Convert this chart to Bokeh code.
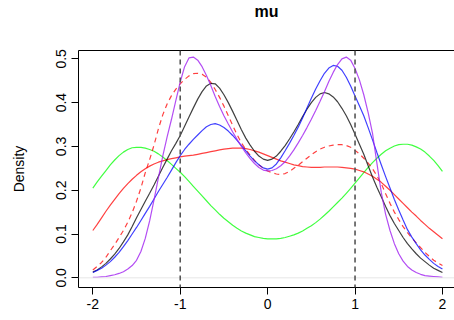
from bokeh.plotting import figure
from bokeh.models import Span, LinearAxis, FixedTicker, Range1d, ColumnDataSource
from bokeh.embed import file_html
from bokeh.resources import INLINE

x = [-2.00, -1.95, -1.90, -1.85, -1.80, -1.75, -1.70, -1.65, -1.60, -1.55,
     -1.50, -1.45, -1.40, -1.35, -1.30, -1.25, -1.20, -1.15, -1.10, -1.05,
     -1.00, -0.95, -0.90, -0.85, -0.80, -0.75, -0.70, -0.65, -0.60, -0.55,
     -0.50, -0.45, -0.40, -0.35, -0.30, -0.25, -0.20, -0.15, -0.10, -0.05,
     0.00, 0.05, 0.10, 0.15, 0.20, 0.25, 0.30, 0.35, 0.40, 0.45,
     0.50, 0.55, 0.60, 0.65, 0.70, 0.75, 0.80, 0.85, 0.90, 0.95,
     1.00, 1.05, 1.10, 1.15, 1.20, 1.25, 1.30, 1.35, 1.40, 1.45,
     1.50, 1.55, 1.60, 1.65, 1.70, 1.75, 1.80, 1.85, 1.90, 1.95, 2.00]

green = [0.205, 0.219, 0.232, 0.245, 0.258, 0.269, 0.279, 0.287, 0.293, 0.297,
         0.298, 0.298, 0.296, 0.293, 0.289, 0.283, 0.276, 0.268, 0.259, 0.250,
         0.241, 0.231, 0.220, 0.209, 0.198, 0.187, 0.176, 0.165, 0.155, 0.145,
         0.136, 0.128, 0.120, 0.113, 0.107, 0.102, 0.098, 0.094, 0.092, 0.090,
         0.089, 0.089, 0.089, 0.090, 0.092, 0.095, 0.098, 0.102, 0.107, 0.113,
         0.119, 0.126, 0.134, 0.143, 0.152, 0.162, 0.172, 0.182, 0.193, 0.204,
         0.216, 0.228, 0.240, 0.252, 0.263, 0.273, 0.282, 0.290, 0.296, 0.301,
         0.304, 0.305, 0.305, 0.303, 0.299, 0.294, 0.287, 0.278, 0.268, 0.256, 0.243]

red = [0.108, 0.122, 0.137, 0.152, 0.166, 0.179, 0.192, 0.204, 0.215, 0.225,
       0.234, 0.242, 0.249, 0.255, 0.260, 0.264, 0.267, 0.270, 0.272, 0.274,
       0.276, 0.278, 0.279, 0.280, 0.282, 0.284, 0.286, 0.288, 0.290, 0.292,
       0.294, 0.295, 0.296, 0.296, 0.296, 0.295, 0.293, 0.290, 0.287, 0.283,
       0.279, 0.275, 0.271, 0.267, 0.264, 0.261, 0.258, 0.256, 0.254, 0.253,
       0.252, 0.252, 0.252, 0.253, 0.253, 0.253, 0.253, 0.252, 0.251, 0.250,
       0.248, 0.245, 0.242, 0.237, 0.232, 0.225, 0.218, 0.209, 0.200, 0.190,
       0.180, 0.170, 0.160, 0.150, 0.141, 0.131, 0.122, 0.113, 0.105, 0.097, 0.089]

red_dashed = [0.018, 0.026, 0.035, 0.047, 0.062, 0.076, 0.092, 0.108, 0.127, 0.149,
              0.175, 0.205, 0.240, 0.270, 0.303, 0.340, 0.372, 0.397, 0.416, 0.431,
              0.443, 0.453, 0.461, 0.466, 0.467, 0.465, 0.458, 0.446, 0.430, 0.412,
              0.392, 0.370, 0.348, 0.327, 0.308, 0.293, 0.280, 0.268, 0.258, 0.250,
              0.244, 0.240, 0.237, 0.236, 0.238, 0.243, 0.250, 0.257, 0.265, 0.273,
              0.281, 0.288, 0.294, 0.298, 0.301, 0.303, 0.304, 0.304, 0.302, 0.298,
              0.291, 0.283, 0.273, 0.262, 0.249, 0.233, 0.215, 0.192, 0.170, 0.150,
              0.133, 0.117, 0.103, 0.091, 0.080, 0.069, 0.058, 0.049, 0.040, 0.034, 0.028]

black = [0.013, 0.018, 0.025, 0.033, 0.043, 0.054, 0.067, 0.082, 0.098, 0.117,
         0.137, 0.156, 0.175, 0.193, 0.212, 0.232, 0.252, 0.271, 0.290, 0.307,
         0.325, 0.346, 0.367, 0.388, 0.408, 0.425, 0.438, 0.444, 0.443, 0.433,
         0.418, 0.400, 0.380, 0.359, 0.338, 0.319, 0.303, 0.289, 0.278, 0.271,
         0.268, 0.271, 0.278, 0.289, 0.302, 0.317, 0.333, 0.350, 0.368, 0.385,
         0.400, 0.412, 0.420, 0.423, 0.420, 0.413, 0.402, 0.387, 0.370, 0.350,
         0.328, 0.305, 0.282, 0.256, 0.230, 0.207, 0.185, 0.163, 0.142, 0.124,
         0.108, 0.092, 0.078, 0.066, 0.055, 0.045, 0.037, 0.029, 0.022, 0.017, 0.012]

blue = [0.012, 0.017, 0.022, 0.029, 0.037, 0.047, 0.058, 0.071, 0.085, 0.100,
        0.115, 0.131, 0.147, 0.163, 0.180, 0.197, 0.213, 0.229, 0.246, 0.263,
        0.279, 0.293, 0.305, 0.316, 0.326, 0.336, 0.345, 0.350, 0.352, 0.349,
        0.343, 0.335, 0.325, 0.314, 0.302, 0.290, 0.278, 0.267, 0.258, 0.251,
        0.248, 0.251, 0.260, 0.274, 0.290, 0.307, 0.325, 0.344, 0.365, 0.388,
        0.410, 0.431, 0.450, 0.467, 0.479, 0.485, 0.483, 0.474, 0.458, 0.438,
        0.415, 0.393, 0.370, 0.343, 0.315, 0.286, 0.258, 0.231, 0.205, 0.179,
        0.155, 0.132, 0.110, 0.093, 0.078, 0.064, 0.052, 0.042, 0.033, 0.026, 0.020]

purple = [0.001, 0.001, 0.002, 0.003, 0.005, 0.007, 0.010, 0.014, 0.020, 0.028,
          0.040, 0.060, 0.090, 0.130, 0.178, 0.228, 0.278, 0.322, 0.362, 0.405,
          0.447, 0.482, 0.502, 0.504, 0.497, 0.482, 0.462, 0.439, 0.414, 0.391,
          0.370, 0.351, 0.333, 0.316, 0.300, 0.285, 0.272, 0.261, 0.252, 0.246,
          0.244, 0.245, 0.249, 0.256, 0.265, 0.278, 0.292, 0.308, 0.325, 0.343,
          0.362, 0.382, 0.403, 0.425, 0.448, 0.469, 0.487, 0.500, 0.504, 0.497,
          0.478, 0.452, 0.418, 0.377, 0.330, 0.262, 0.195, 0.145, 0.108, 0.078,
          0.055, 0.038, 0.026, 0.018, 0.012, 0.008, 0.005, 0.004, 0.003, 0.002, 0.001]

title_text = "mu"
vlines = [-1, 1]
x_ticks = [-2, -1, 0, 1, 2]
x_tick_labels = ["-2", "-1", "0", "1", "2"]
y_ticks = [0.0, 0.1, 0.2, 0.3, 0.4, 0.5]
y_tick_labels = ["0.0", "0.1", "0.2", "0.3", "0.4", "0.5"]

FONT = "Liberation Sans"

p = figure(width=454, height=320, output_backend="svg", toolbar_location=None,
           x_range=Range1d(-2.164, 2.138), y_range=Range1d(-0.0221, 0.519),
           min_border_left=78, min_border_right=0, min_border_top=50, min_border_bottom=33,
           title=title_text)
p.title.align = "center"
p.title.vertical_align = "top"
p.title.text_font = FONT
p.title.text_font_size = "16px"
p.title.text_font_style = "bold"
p.title.text_color = "black"
p.title.standoff = 4

p.grid.visible = False
p.outline_line_color = None
p.background_fill_color = "white"
p.border_fill_color = "white"

for ax in (p.xaxis[0], p.yaxis[0]):
    ax.major_tick_in = 0
    ax.major_tick_out = 7
    ax.minor_tick_line_color = None
    ax.axis_line_color = "black"
    ax.major_tick_line_color = "black"
    ax.major_label_text_font = FONT
    ax.major_label_text_font_size = "14px"
    ax.major_label_text_color = "black"

p.xaxis.ticker = FixedTicker(ticks=x_ticks)
p.xaxis.major_label_overrides = {t: l for t, l in zip(x_ticks, x_tick_labels)}
p.xaxis.major_label_standoff = 4

p.yaxis.ticker = FixedTicker(ticks=y_ticks)
p.yaxis.major_label_overrides = {t: l for t, l in zip(y_ticks, y_tick_labels)}
p.yaxis.major_label_orientation = "vertical"
p.yaxis.major_label_standoff = 5
p.yaxis.axis_label = "Density"
p.yaxis.axis_label_text_font = FONT
p.yaxis.axis_label_text_font_size = "14px"
p.yaxis.axis_label_text_font_style = "normal"
p.yaxis.axis_label_text_color = "black"
p.yaxis.axis_label_standoff = 27

# top border of the box (no ticks); a blank axis label reserves room below the title
top = LinearAxis(ticker=FixedTicker(ticks=[]), major_tick_line_color=None,
                 minor_tick_line_color=None, major_label_text_font_size="0px",
                 axis_line_color="black", axis_label=" ",
                 axis_label_text_font_size="10px", axis_label_standoff=13)
p.add_layout(top, "above")

p.add_layout(Span(location=0, dimension="width", line_color="#e6e6e6", line_width=1))
for v in vlines:
    p.add_layout(Span(location=v, dimension="height", line_color="#555555",
                      line_width=1.6, line_dash="5 4"))

src = ColumnDataSource(dict(x=x, green=green, red=red, red_dashed=red_dashed,
                            black=black, blue=blue, purple=purple))
p.line("x", "green", source=src, line_color="#00ff00", line_width=1.2, line_alpha=0.75)
p.line("x", "red", source=src, line_color="#ff0000", line_width=1.2, line_alpha=0.75)
p.line("x", "red_dashed", source=src, line_color="#ff0000", line_width=1.2, line_alpha=0.75,
       line_dash="5 4")
p.line("x", "black", source=src, line_color="#000000", line_width=1.2, line_alpha=0.75)
p.line("x", "blue", source=src, line_color="#0000ff", line_width=1.2, line_alpha=0.75)
p.line("x", "purple", source=src, line_color="#a020f0", line_width=1.2, line_alpha=0.8)

open("out.html", "w").write(file_html(p, INLINE))
